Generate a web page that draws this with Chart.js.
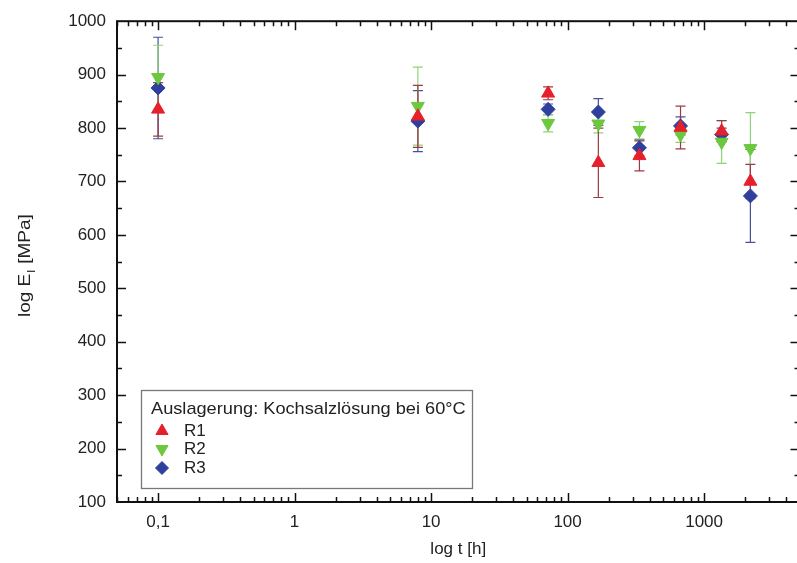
<!DOCTYPE html>
<html lang="de">
<head>
  <meta charset="UTF-8">
  <title>E-Modul nach Auslagerung</title>
  <script src="https://cdn.jsdelivr.net/npm/chart.js"></script>
  <style>
    html, body {
      margin: 0;
      padding: 0;
      background: #fff;
      overflow: hidden;
    }
  </style>
</head>
<body>
  <canvas id="modulChart" width="808" height="563"></canvas>

  <script>
    // Auslagerungszeiten [h] und Messwerte [MPa]
    const times = [0.1, 8, 72, 168, 336, 672, 1344, 2184];
    const r1Values = [835, 822, 865, 735, 748, 801, 794, 700];
    const r1Errors = [50, 58, 12, 65, 28, 40, 20, 32];
    const r2Values = [895, 841, 809, 808, 796, 788, 774, 762];
    const r2Errors = [60, 73, 16, 17, 16, 15, 40, 67];
    const r3Values = [875, 813, 835, 830, 763, 804, 788, 673];
    const r3Errors = [95, 57, 10, 25, 15, 17, 12, 87];

    const xTickValues = [0.1, 1, 10, 100, 1000];
    const xTickLabels = ['0,1', '1', '10', '100', '1000'];
    const yTickValues = [100, 200, 300, 400, 500, 600, 700, 800, 900, 1000];

    const legendTitle = 'Auslagerung: Kochsalzlösung bei 60°C';
    const FONT = "'Liberation Sans', Arial, Helvetica, sans-serif";

    function toPoints(values, errors) {
      return times.map((t, i) => ({ x: t, y: values[i], err: errors[i] }));
    }

    const series = [
      { label: 'R1', values: r1Values, errors: r1Errors, color: '#e5202a', barColor: '#9c3a44', style: 'triangle', rotation: 0, radius: 7.5 },
      { label: 'R2', values: r2Values, errors: r2Errors, color: '#6cc83c', barColor: '#8fd47a', style: 'triangle', rotation: 180, radius: 7.5 },
      { label: 'R3', values: r3Values, errors: r3Errors, color: '#2f3f9e', barColor: '#4b4f9a', style: 'rectRot', rotation: 0, radius: 7 }
    ];

    // Fehlerbalken unter den Symbolen
    const errorBars = {
      id: 'errorBars',
      beforeDatasetsDraw(chart) {
        const ctx = chart.ctx;
        const xs = chart.scales.x, ys = chart.scales.y;
        ctx.save();
        for (let d = chart.data.datasets.length - 1; d >= 0; d--) {
          const ds = chart.data.datasets[d];
          ctx.strokeStyle = ds.barColor;
          ctx.lineWidth = 1.2;
          ds.data.forEach(p => {
            const px = xs.getPixelForValue(p.x);
            const top = ys.getPixelForValue(p.y + p.err);
            const bot = ys.getPixelForValue(p.y - p.err);
            ctx.beginPath();
            ctx.moveTo(px, top); ctx.lineTo(px, bot);
            ctx.moveTo(px - 5, top); ctx.lineTo(px + 5, top);
            ctx.moveTo(px - 5, bot); ctx.lineTo(px + 5, bot);
            ctx.stroke();
          });
        }
        ctx.restore();
      }
    };

    // Rahmen mit nach innen zeigenden Teilstrichen, Achsentitel, Legende
    const frame = {
      id: 'frame',
      afterDraw(chart) {
        const ctx = chart.ctx;
        const a = chart.chartArea;
        const xs = chart.scales.x, ys = chart.scales.y;
        ctx.save();
        ctx.strokeStyle = '#111';
        ctx.lineWidth = 2;
        ctx.strokeRect(a.left, a.top, a.right - a.left, a.bottom - a.top);

        ctx.lineWidth = 1.5;
        ctx.beginPath();
        // x: Dekaden und Zwischenwerte
        for (let e = -2; e <= 3; e++) {
          for (let m = 1; m <= 9; m++) {
            const v = m * Math.pow(10, e);
            if (v < xs.min || v > xs.max) continue;
            const px = Math.round(xs.getPixelForValue(v)) + 0.5;
            const len = m === 1 ? 9 : 5;
            ctx.moveTo(px, a.bottom); ctx.lineTo(px, a.bottom - len);
            ctx.moveTo(px, a.top); ctx.lineTo(px, a.top + len);
          }
        }
        // y: 100er und 50er
        for (let v = 150; v < 1000; v += 50) {
          const py = Math.round(ys.getPixelForValue(v)) + 0.5;
          const len = v % 100 === 0 ? 9 : 5;
          ctx.moveTo(a.left, py); ctx.lineTo(a.left + len, py);
          ctx.moveTo(a.right, py); ctx.lineTo(a.right - len, py);
        }
        ctx.stroke();

        // y-Achsentitel mit Index
        ctx.fillStyle = '#222';
        ctx.translate(25, (a.top + a.bottom) / 2 + 4);
        ctx.rotate(-Math.PI / 2);
        ctx.scale(1.12, 1);
        ctx.textBaseline = 'middle';
        const main = '17px ' + FONT, sub = '11px ' + FONT;
        ctx.font = main;
        const w1 = ctx.measureText('log E').width;
        const w3 = ctx.measureText(' [MPa]').width;
        ctx.font = sub;
        const w2 = ctx.measureText('I').width + 1;
        let x0 = -(w1 + w2 + w3) / 2;
        ctx.font = main; ctx.fillText('log E', x0, 0);
        ctx.font = sub; ctx.fillText('I', x0 + w1 + 0.5, 7);
        ctx.font = main; ctx.fillText(' [MPa]', x0 + w1 + w2, 0);
        ctx.restore();

        // Legende
        ctx.save();
        const bx = 141.5, by = 390.5, bw = 331, bh = 98;
        ctx.fillStyle = '#fff';
        ctx.fillRect(bx, by, bw, bh);
        ctx.strokeStyle = '#777';
        ctx.lineWidth = 1.3;
        ctx.strokeRect(bx, by, bw, bh);
        ctx.fillStyle = '#222';
        ctx.font = '17px ' + FONT;
        ctx.textBaseline = 'middle';
        ctx.save();
        ctx.translate(151, 409);
        ctx.scale(1.07, 1);
        ctx.fillText(legendTitle, 0, 0);
        ctx.restore();
        const rows = [431, 449, 468];
        chart.data.datasets.forEach((ds, i) => {
          ctx.fillStyle = ds.backgroundColor;
          ctx.strokeStyle = ds.borderColor;
          ctx.lineWidth = 1;
          Chart.helpers.drawPoint(ctx, {
            pointStyle: ds.pointStyle,
            rotation: ds.rotation,
            radius: ds.pointRadius - 0.5,
            borderWidth: 1
          }, 162, rows[i]);
          ctx.fillStyle = '#222';
          ctx.fillText(ds.label, 184, rows[i]);
        });
        ctx.restore();
      }
    };

    const chart = new Chart(document.getElementById('modulChart').getContext('2d'), {
      type: 'scatter',
      data: {
        datasets: series.map(s => ({
          label: s.label,
          data: toPoints(s.values, s.errors),
          backgroundColor: s.color,
          borderColor: s.color,
          barColor: s.barColor,
          pointStyle: s.style,
          rotation: s.rotation,
          pointRadius: s.radius,
          pointHoverRadius: s.radius,
          borderWidth: 1
        }))
      },
      options: {
        responsive: false,
        animation: false,
        layout: { padding: { left: 0, top: 20, right: 4, bottom: 0 } },
        plugins: {
          legend: { display: false },
          tooltip: { enabled: false }
        },
        scales: {
          x: {
            type: 'logarithmic',
            min: 0.05,
            max: 5000,
            grid: { display: false, drawTicks: false },
            border: { display: false },
            afterBuildTicks: scale => { scale.ticks = xTickValues.map(v => ({ value: v })); },
            afterFit: scale => { scale.height = 61; },
            ticks: {
              padding: 10,
              color: '#222',
              font: { family: FONT, size: 17 },
              callback: (value) => {
                const i = xTickValues.indexOf(value);
                return i >= 0 ? xTickLabels[i] : '';
              }
            },
            title: {
              display: true,
              text: 'log t [h]',
              color: '#222',
              font: { family: FONT, size: 17 },
              padding: { top: 0, bottom: 3 }
            }
          },
          y: {
            min: 100,
            max: 1000,
            grid: { display: false, drawTicks: false },
            border: { display: false },
            afterBuildTicks: scale => { scale.ticks = yTickValues.map(v => ({ value: v })); },
            afterFit: scale => { scale.width = 117; },
            ticks: {
              padding: 11,
              color: '#222',
              font: { family: FONT, size: 17 },
              callback: value => String(value)
            }
          }
        }
      },
      plugins: [errorBars, frame]
    });
  </script>
</body>
</html>
